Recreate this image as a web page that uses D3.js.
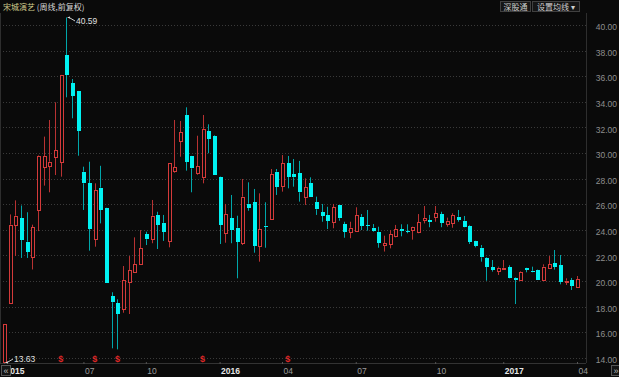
<!DOCTYPE html>
<html>
<head>
<meta charset="utf-8">
<script src="https://cdn.jsdelivr.net/npm/d3@7"></script>
<style>
body { margin: 0; background: #0a0a0a; }
svg { display: block; font-family: "Liberation Sans", Arial, sans-serif; }
</style>
</head>
<body>
<svg width="619" height="377"></svg>
<script>
// 周线数据 (前复权), 从左到右
const opens  = [13.70,18.30,24.40,24.90,23.07,21.90,25.55,28.93,28.98,29.71,29.27,37.66,35.44,34.82,28.54,27.63,23.26,27.29,25.73,18.83,
                18.26,17.79,19.95,20.73,21.30,23.67,23.26,25.16,24.55,23.15,28.59,30.96,32.97,29.79,28.41,28.16,31.72,31.35,28.15,23.73,
                24.90,24.16,22.99,26.04,26.15,22.76,24.32,24.82,28.54,27.42,29.20,28.36,28.41,26.59,27.63,26.15,25.37,25.16,24.59,25.94,
                24.43,23.85,23.93,25.02,24.35,24.16,23.85,22.81,22.87,23.55,24.06,23.90,23.98,23.85,24.79,24.74,25.02,25.21,24.43,24.55,
                25.02,24.71,24.32,23.13,22.60,21.77,21.09,20.80,20.94,21.09,20.26,20.08,21.02,20.80,20.87,20.08,21.04,21.38,21.25,19.95,
                20.08,19.51];
const highs  = [16.64,25.20,26.30,25.90,25.37,24.40,29.85,31.28,32.58,33.96,36.10,40.59,35.78,34.85,28.93,29.32,27.63,29.00,25.75,19.12,
                18.57,21.17,21.95,23.41,23.98,23.85,26.33,25.41,25.16,29.20,32.58,32.50,33.57,29.80,31.35,32.97,32.24,31.40,28.18,26.02,
                26.72,25.10,27.97,27.71,27.19,26.85,26.15,28.75,28.75,29.84,29.77,29.53,29.38,28.02,28.10,26.59,26.02,25.80,26.02,25.95,
                24.63,24.63,25.76,25.23,25.55,24.45,24.24,23.54,23.98,24.38,24.43,24.43,24.24,25.23,25.86,25.16,25.86,25.41,24.95,25.29,
                25.55,25.08,24.38,23.15,22.81,21.85,21.64,21.12,21.64,21.23,20.30,20.78,21.04,21.12,20.90,21.30,21.95,22.42,22.03,20.21,
                20.24,20.39];
const lows   = [13.63,18.25,21.95,21.80,21.80,20.90,23.90,27.45,26.93,28.28,28.15,34.35,32.71,29.79,25.55,22.37,22.68,24.50,19.85,14.74,
                14.66,17.52,17.42,20.65,21.25,22.81,22.95,22.50,23.13,22.63,28.46,29.71,28.62,26.93,28.30,27.63,29.98,28.28,22.89,22.99,
                22.95,20.21,22.81,25.49,22.21,21.51,22.60,24.80,26.72,26.98,27.24,27.37,26.20,25.94,26.59,25.16,24.63,24.06,24.12,24.71,
                23.38,23.34,23.90,23.98,23.93,23.85,22.60,22.30,22.55,23.41,23.49,23.73,23.23,23.73,24.50,24.20,24.63,24.20,24.24,24.16,
                24.63,24.20,22.89,22.63,21.51,20.02,20.73,20.47,20.86,20.21,18.20,20.05,20.68,20.68,20.08,20.08,21.00,20.89,19.74,19.69,
                19.30,19.45];
const closes = [16.64,24.40,25.10,23.20,22.30,24.20,29.80,29.77,29.32,30.23,36.07,36.09,34.48,31.74,27.63,24.06,27.11,25.55,19.87,18.34,
                17.42,20.08,20.86,21.33,22.55,23.26,25.10,24.38,23.85,29.20,28.88,31.62,29.32,28.80,28.98,31.88,31.12,28.28,24.38,25.23,
                23.98,23.07,26.59,25.73,22.76,24.04,24.25,28.34,27.37,29.20,28.15,28.10,26.93,27.32,26.59,25.60,25.10,24.69,25.76,24.90,
                23.85,24.16,25.16,24.32,24.32,23.90,22.99,22.95,23.67,24.04,23.90,23.85,24.20,24.59,24.90,24.60,25.29,24.55,24.71,25.16,
                24.77,24.25,23.07,22.73,21.85,21.12,20.86,21.04,21.04,20.26,20.08,20.73,20.86,20.78,20.09,21.12,21.30,21.12,19.95,20.03,
                19.61,20.13];

const tickIdx    = [0, 14, 25, 38, 49, 62, 76, 88, 101];
const tickLabels = ['2015', '07', '10', '2016', '04', '07', '10', '2017', '04'];
const yTicks     = d3.range(14, 41, 2);
const eventIdx   = [10, 16, 20, 35, 50];   // 红色 $ 标记

const RED = '#d43a3a', RED_WICK = '#b83232', CYAN = '#00f2f2', CYAN_WICK = '#00a6aa';
const plotRight = 586, axisY = 363;

const svg = d3.select('svg');
svg.append('rect').attr('width', 619).attr('height', 377).attr('fill', '#0a0a0a');

const n = opens.length;
const x = d3.scalePoint().domain(d3.range(n)).range([4, 577]);
const y = d3.scaleLinear().domain([14, 40]).range([357.8, 25]);

// 网格线
svg.append('g').selectAll('line').data(yTicks).join('line')
    .attr('x1', 0).attr('x2', plotRight)
    .attr('y1', d => Math.round(y(d)) + 0.5).attr('y2', d => Math.round(y(d)) + 0.5)
    .attr('stroke', '#3a3a3a').attr('stroke-dasharray', '1,2');

// 边框线
svg.append('line').attr('x1', plotRight + 0.5).attr('x2', plotRight + 0.5).attr('y1', 13).attr('y2', axisY)
    .attr('stroke', '#2e2e2e');
svg.append('line').attr('x1', 0.5).attr('x2', 0.5).attr('y1', 13).attr('y2', axisY)
    .attr('stroke', '#2e2e2e');

// 右侧价格轴
const yAxis = svg.append('g').attr('transform', `translate(${plotRight},0)`)
    .call(d3.axisRight(y).tickValues(yTicks).tickFormat(d3.format('.2f')).tickSize(0));
yAxis.select('.domain').remove();
yAxis.selectAll('text')
    .attr('x', 617 - plotRight).attr('dy', '0.55em').attr('text-anchor', 'end')
    .attr('fill', '#8e8e8e').style('font-size', '8.5px')
    .style('font-family', '"Liberation Sans", Arial, sans-serif');

// 时间轴
const labelOf = d3.index(tickIdx.map((t, k) => ({t, lab: tickLabels[k]})), d => d.t);
const xAxis = svg.append('g').attr('transform', `translate(0,${axisY})`)
    .call(d3.axisBottom(x).tickValues(tickIdx).tickFormat(d => labelOf.get(d).lab).tickSize(2));
xAxis.select('.domain').attr('d', `M0,0.5H${plotRight}`).attr('stroke', '#333');
xAxis.selectAll('.tick line').attr('stroke', '#555').attr('y1', -1).attr('y2', 1);
xAxis.selectAll('text')
    .attr('text-anchor', 'start').attr('x', 1).attr('y', 11).attr('dy', 0)
    .attr('fill', d => labelOf.get(d).lab.length === 4 ? '#e6e6e6' : '#9a9a9a')
    .style('font-weight', d => labelOf.get(d).lab.length === 4 ? 'bold' : 'normal')
    .style('font-size', '8.5px')
    .style('font-family', '"Liberation Sans", Arial, sans-serif');

// K线
const bars = d3.range(n).map(i => ({i, o: opens[i], h: highs[i], l: lows[i], c: closes[i]}));
const isUp = d => d.c >= d.o;
const cx = d => Math.round(x(d.i));

svg.append('g').selectAll('path').data(bars).join('path')
    .attr('d', d => {
        const top = y(Math.max(d.o, d.c)), bot = y(Math.min(d.o, d.c)), xx = cx(d) + 0.5;
        return `M${xx},${y(d.h)}V${top}M${xx},${bot}V${y(d.l)}`;
    })
    .attr('stroke', d => isUp(d) ? RED_WICK : CYAN_WICK).attr('fill', 'none');

const body = svg.append('g');
body.selectAll('rect').data(bars.filter(isUp)).join('rect')
    .attr('x', d => cx(d) - 0.5).attr('width', 3)
    .attr('y', d => Math.round(y(d.c)) + 0.5)
    .attr('height', d => Math.max(1, Math.round(y(d.o)) - Math.round(y(d.c))))
    .attr('fill', '#0a0a0a').attr('stroke', RED);
body.append('g').selectAll('rect').data(bars.filter(d => !isUp(d))).join('rect')
    .attr('x', d => cx(d) - 1).attr('width', 4)
    .attr('y', d => Math.round(y(d.o)))
    .attr('height', d => Math.max(1, Math.round(y(d.c)) - Math.round(y(d.o))))
    .attr('fill', CYAN);

// 最高/最低价标注
const hiI = d3.maxIndex(highs), loI = d3.minIndex(lows);
function mark(i, v, dir) {
    const px = cx({i}) + 1, py = y(v);
    const g = svg.append('g');
    g.append('path').attr('d', `M${px},${py}l3,${dir * -1}l0,${dir * 2}z`).attr('fill', '#eee');
    g.append('line').attr('x1', px + 2).attr('y1', py).attr('x2', px + 8).attr('y2', py + dir * 3.5)
        .attr('stroke', '#ccc');
    g.append('text').attr('x', px + 9).attr('y', py + dir * 3.5 + 3)
        .attr('fill', '#e0e0e0').style('font-size', '8.5px').text(d3.format('.2f')(v));
}
mark(hiI, highs[hiI], 1);
mark(loI, lows[loI], -1);

// 事件标记
svg.append('g').selectAll('text').data(eventIdx).join('text')
    .attr('x', d => x(d)).attr('y', 362).attr('text-anchor', 'middle')
    .attr('fill', '#e02828').style('font-size', '9px').style('font-weight', 'bold')
    .text('$');

// 标题
const title = svg.append('text').attr('x', 3).attr('y', 10).style('font-size', '8px')
    .style('font-family', '"Noto Sans CJK SC", sans-serif');
title.append('tspan').attr('fill', '#cfcb8a').text('宋城演艺');
title.append('tspan').attr('fill', '#d8d8d8').text(' (周线,前复权)');

// 右上按钮
const btns = [{label: '深股通', x: 500, w: 30}, {label: '设置均线 ▾', x: 532, w: 47}];
const bg = svg.append('g').selectAll('g').data(btns).join('g');
bg.append('rect').attr('x', d => d.x + 0.5).attr('y', 1.5).attr('width', d => d.w).attr('height', 10)
    .attr('fill', '#161616').attr('stroke', '#404040');
bg.append('text').attr('x', d => d.x + d.w / 2 + 0.5).attr('y', 9.5).attr('text-anchor', 'middle')
    .attr('fill', '#cfcfcf').style('font-size', '8px')
    .style('font-family', '"Noto Sans CJK SC", sans-serif').text(d => d.label);

// 底部翻页按钮
const nav = [{t: '«', x: 1}, {t: '»', x: 611}];
const ng = svg.append('g').selectAll('g').data(nav).join('g');
ng.append('rect').attr('x', d => d.x + 0.5).attr('y', 365.5).attr('width', 9).attr('height', 10)
    .attr('fill', '#141414').attr('stroke', '#555');
ng.append('text').attr('x', d => d.x + 5).attr('y', 373.5).attr('text-anchor', 'middle')
    .attr('fill', '#bbb').style('font-size', '9px').text(d => d.t);
</script>
</body>
</html>
